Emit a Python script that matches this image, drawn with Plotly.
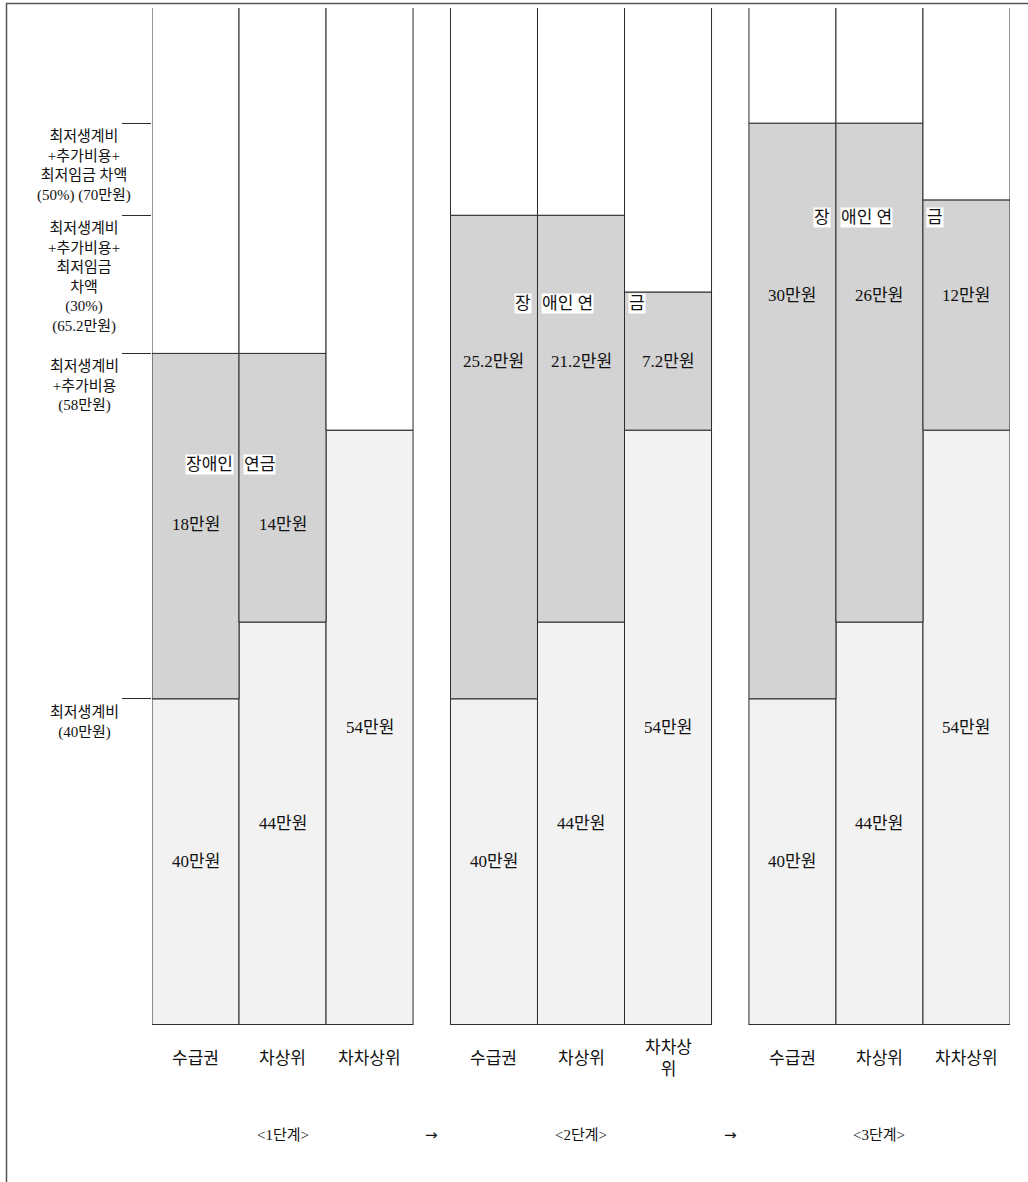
import plotly.graph_objects as go

# ---- data -------------------------------------------------------------
stages = ["<1단계>", "<2단계>", "<3단계>"]
recipient_types = ["수급권", "차상위", "차차상위"]
# the 2nd stage's last category label wraps onto two lines
category_text = [
    ["수급권", "차상위", "차차상위"],
    ["수급권", "차상위", "차차상<br>위"],
    ["수급권", "차상위", "차차상위"],
]
base_income = [[40, 44, 54], [40, 44, 54], [40, 44, 54]]        # 만원
pension_amount = [[18, 14, 0], [25.2, 21.2, 7.2], [30, 26, 12]]  # 만원
level_values = [70, 65.2, 58, 40]
level_labels = [
    "최저생계비<br>+추가비용+<br>최저임금 차액<br>(50%) (70만원)",
    "최저생계비<br>+추가비용+<br>최저임금<br>차액<br>(30%)<br>(65.2만원)",
    "최저생계비<br>+추가비용<br>(58만원)",
    "최저생계비<br>(40만원)",
]
pension_title_parts = [["장애인", "연금"], ["장", "애인 연", "금"], ["장", "애인 연", "금"]]

# ---- layout constants --------------------------------------------------
W, H = 1028, 1182
M_L, M_R, M_T, M_B = 152, 18, 8, 157
Y_MIN, Y_MAX = 23, 76
GROUP_STEP = 3.43
FONT = "Liberation Serif, Noto Sans CJK KR, serif"
EDGE = "#2b2b2b"
LIGHT = "#f2f2f2"
MID = "#d3d3d3"
INK = "#111111"

# vertical positions (in 만원 units) of the in-bar texts for each stage
title_y = [52.2, 60.6, 65.1]
amount_y = [49.1, 57.6, 61.0]

xs, base_flat, pen_flat, top_flat = [], [], [], []
for g in range(3):
    for i in range(3):
        xs.append(g * GROUP_STEP + i)
        base_flat.append(base_income[g][i])
        pen_flat.append(pension_amount[g][i])
        top_flat.append(base_income[g][i] + pension_amount[g][i])

fig = go.Figure()

# income already received (light segment)
fig.add_trace(go.Bar(
    x=xs, y=base_flat, base=[0] * len(xs), width=1,
    marker=dict(color=LIGHT, line=dict(color=EDGE, width=1)),
    hoverinfo="skip", showlegend=False,
))
# disability pension stacked on top
fig.add_trace(go.Bar(
    x=xs, y=pen_flat, base=base_flat, width=1,
    marker=dict(color=MID, line=dict(color=EDGE, width=1)),
    hoverinfo="skip", showlegend=False,
))
# empty column above each bar, running past the top of the plot
fig.add_trace(go.Bar(
    x=xs, y=[Y_MAX + 10 - t for t in top_flat], base=top_flat, width=1,
    marker=dict(color="white", line=dict(color=EDGE, width=1)),
    hoverinfo="skip", showlegend=False,
))

# bottom edge under each stage's block of bars
bx, by = [], []
for g in range(3):
    bx += [g * GROUP_STEP - 0.5, g * GROUP_STEP + 2.5, None]
    by += [Y_MIN, Y_MIN, None]
fig.add_trace(go.Scatter(x=bx, y=by, mode="lines", line=dict(color=EDGE, width=2),
                         hoverinfo="skip", showlegend=False))

ann = []
txt = dict(family=FONT, size=17, color=INK)


def title_piece(x, y, text, anchor, shift):
    return dict(x=x, y=y, text=text, xanchor=anchor, xshift=shift, yanchor="middle",
                showarrow=False, font=txt, bgcolor="white", borderpad=0)


for g in range(3):
    x0 = g * GROUP_STEP
    for i in range(3):
        b = base_income[g][i]
        # amount of base income, centred in the visible light segment
        ann.append(dict(x=x0 + i, y=(Y_MIN + b) / 2, text=f"{b}만원", showarrow=False,
                        font=txt, xanchor="center", yanchor="middle"))
        p = pension_amount[g][i]
        if p:
            ann.append(dict(x=x0 + i, y=amount_y[g], text=f"{p:g}만원", showarrow=False,
                            font=txt, xanchor="center", yanchor="middle"))
        # category label under the bar
        ann.append(dict(x=x0 + i, xref="x", y=-0.0325, yref="paper", text=category_text[g][i],
                        showarrow=False, font=txt, xanchor="center", yanchor="middle"))
    # stage label
    ann.append(dict(x=x0 + 1, y=-0.108, yref="paper",
                    text=stages[g].replace("<", "&lt;").replace(">", "&gt;"),
                    showarrow=False, font=dict(family=FONT, size=15, color=INK),
                    xanchor="center", yanchor="middle"))
    # "장애인 연금" title pieces with white backing
    parts = pension_title_parts[g]
    ann.append(title_piece(x0 + 0.5, title_y[g], parts[0], "right", -5))
    ann.append(title_piece(x0 + 0.5, title_y[g], parts[1], "left", 4))
    if len(parts) == 3:
        ann.append(title_piece(x0 + 1.5, title_y[g], parts[2], "left", 3))

# arrows between stages
for g in range(2):
    gap_mid = (g * GROUP_STEP + 2.5 + (g + 1) * GROUP_STEP - 0.5) / 2
    ann.append(dict(x=gap_mid, y=-0.108, yref="paper", text="→", showarrow=False,
                    font=dict(family="DejaVu Sans", size=15, color=INK),
                    xanchor="center", yanchor="middle"))

# level labels hanging below each tick on the left
plot_w = W - M_L - M_R
plot_h = H - M_T - M_B
for v, lab in zip(level_values, level_labels):
    ann.append(dict(x=(84 - M_L) / plot_w, xref="paper", y=v, yref="y", text=lab,
                    showarrow=False, font=dict(family=FONT, size=15, color=INK),
                    xanchor="center", yanchor="top", yshift=-3, align="center"))


def px(xp):
    return (xp - M_L) / plot_w


def py(yp):
    return (H - M_B - yp) / plot_h


shapes = [
    dict(type="line", xref="paper", yref="paper", x0=px(6), x1=px(W), y0=py(3.5), y1=py(3.5),
         line=dict(color="#555", width=1.5)),
    dict(type="line", xref="paper", yref="paper", x0=px(6.5), x1=px(6.5), y0=py(3), y1=py(H),
         line=dict(color="#555", width=1.5)),
]

fig.update_layout(
    width=W, height=H,
    margin=dict(l=M_L, r=M_R, t=M_T, b=M_B),
    paper_bgcolor="white", plot_bgcolor="white",
    barmode="overlay",
    xaxis=dict(range=[-0.5, 2 * GROUP_STEP + 2.5], visible=False, fixedrange=True),
    yaxis=dict(range=[Y_MIN, Y_MAX], tickvals=level_values, ticks="outside", ticklen=29,
               tickcolor=EDGE, tickwidth=1, showticklabels=False, showgrid=False,
               zeroline=False, showline=False, fixedrange=True),
    annotations=ann,
    shapes=shapes,
    font=dict(family=FONT),
)

fig.write_html("out.html")
